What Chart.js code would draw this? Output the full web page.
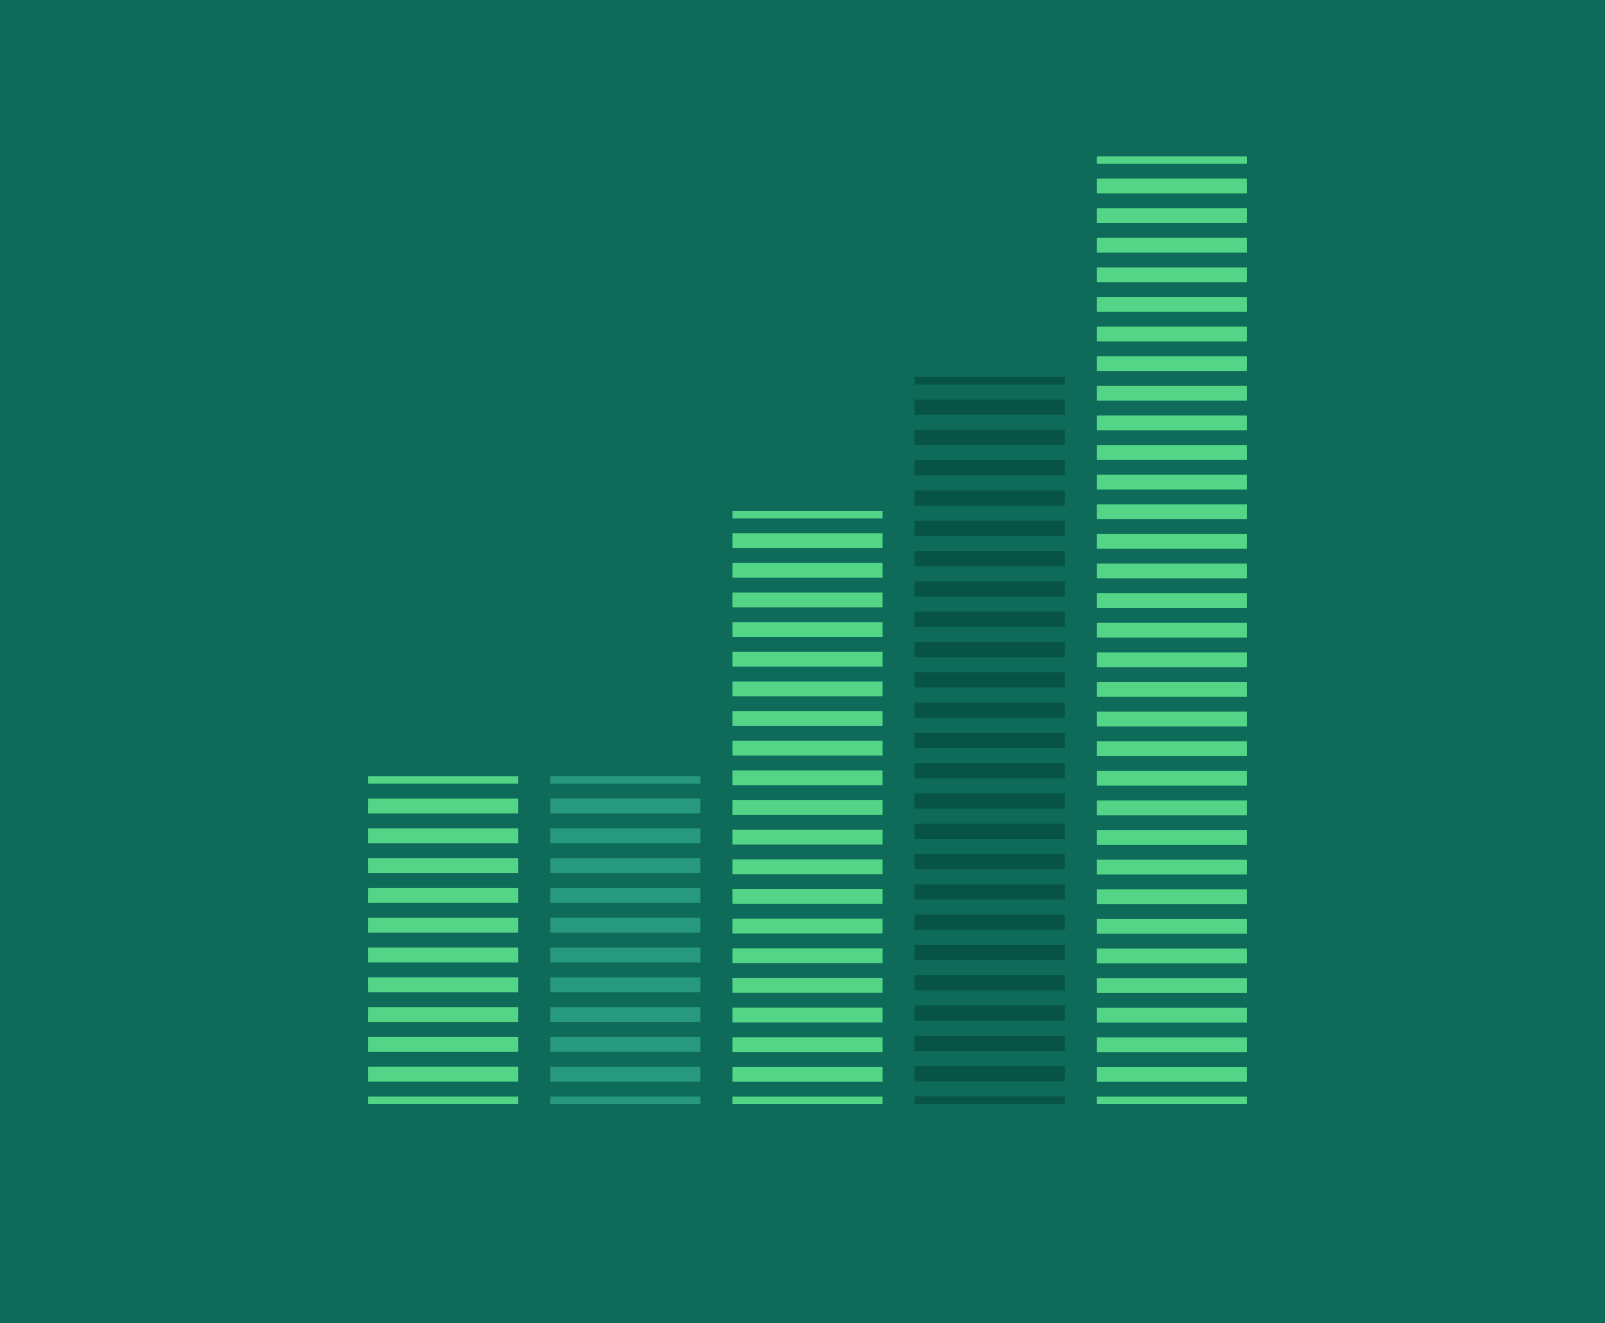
<!DOCTYPE html>
<html>
<head>
<meta charset="utf-8">
<script src="https://cdn.jsdelivr.net/npm/chart.js@4"></script>
<style>
  html, body { margin: 0; padding: 0; background: #0f6b59; }
  #wrap { width: 1605px; height: 1323px; position: relative; }
</style>
</head>
<body>
<div id="wrap"><canvas id="barChart"></canvas></div>
<script>
// data (units = stripes)
var categories = ["A", "B", "C", "D", "E"];
var values = [11, 11, 19.9, 24.4, 31.8];
var barColors = ["#53d487", "#27997e", "#53d487", "#075344", "#53d487"];

// draws each bar as a stack of horizontal stripes, one per unit
var stripePlugin = {
    id: "stripes",
    afterDatasetsDraw: function (chart) {
        var ctx = chart.ctx;
        var meta = chart.getDatasetMeta(0);
        meta.data.forEach(function (bar, i) {
            var top = bar.y, base = bar.base;
            var left = bar.x - bar.width / 2;
            var n = Math.max(1, Math.round(values[i]));
            var unit = (base - top) / n;
            var half = unit / 4;
            ctx.save();
            ctx.fillStyle = barColors[i];
            for (var k = 0; k <= n; k++) {
                var c = top + k * unit;
                var y0 = Math.max(top, c - half);
                var y1 = Math.min(base, c + half);
                ctx.fillRect(left, y0, bar.width, y1 - y0);
            }
            ctx.restore();
        });
    }
};

var chart = new Chart(document.getElementById("barChart"), {
    type: "bar",
    data: {
        labels: categories,
        datasets: [{
            data: values,
            backgroundColor: "rgba(0,0,0,0)",
            borderWidth: 0,
            barPercentage: 0.824,
            categoryPercentage: 1
        }]
    },
    options: {
        responsive: true,
        maintainAspectRatio: false,
        animation: false,
        layout: { padding: { left: 352, right: 342, top: 61, bottom: 219 } },
        plugins: { legend: { display: false }, tooltip: { enabled: false } },
        scales: {
            x: { display: false },
            y: { display: false, min: 0, max: 35 }
        }
    },
    plugins: [stripePlugin]
});
</script>
</body>
</html>
